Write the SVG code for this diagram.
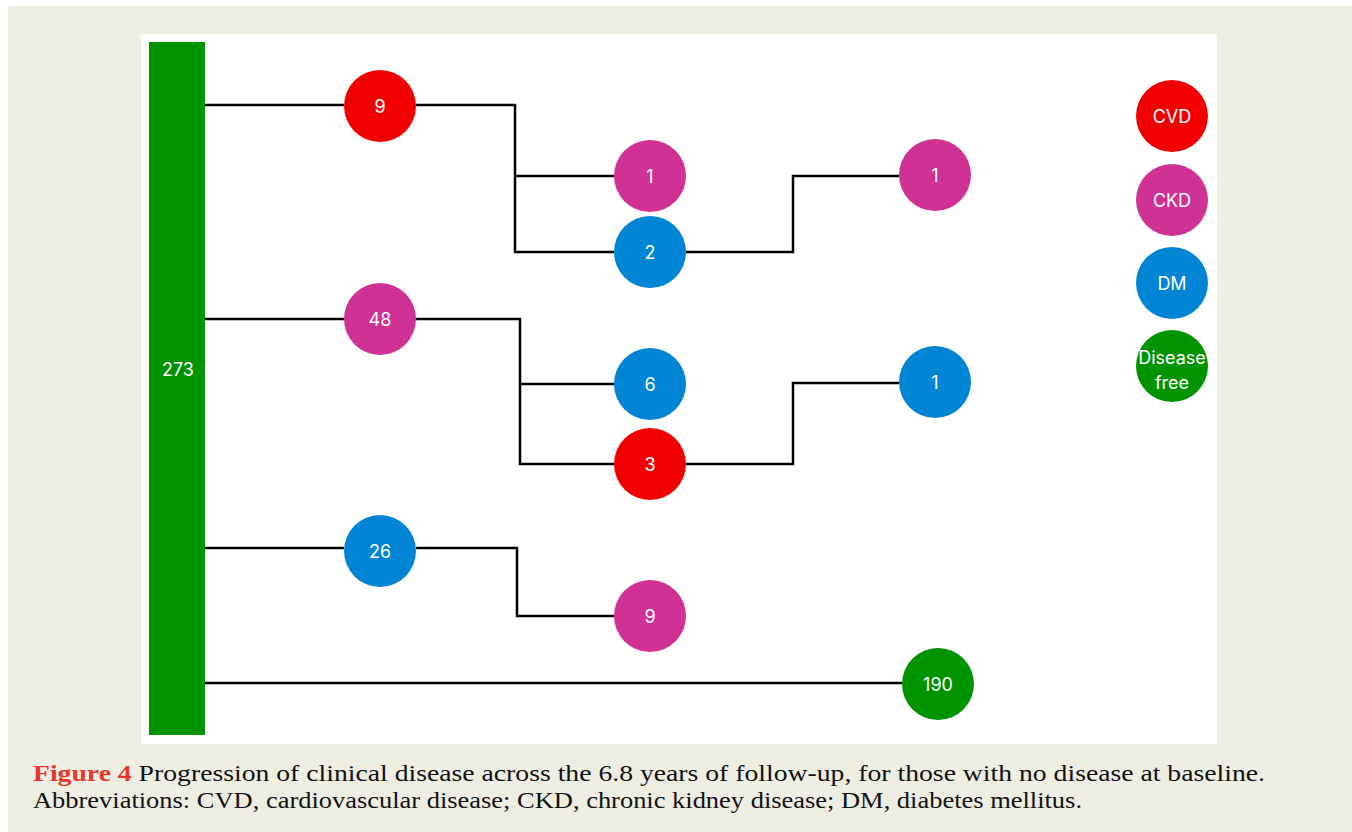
<svg xmlns="http://www.w3.org/2000/svg" width="1352" height="832" viewBox="0 0 1352 832">
<style>
.n text{font-family:Inter,"Noto Sans",sans-serif;font-size:18px;fill:#fff;text-anchor:middle;dominant-baseline:central}
.cvd{fill:#F20000}.ckd{fill:#CF3194}.dm{fill:#0085D4}.free{fill:#009300}
.conn path{fill:none;stroke:#000;stroke-width:2.5}
.cap{font-family:"Liberation Serif",serif;font-size:24px;fill:#111}
</style>
<rect x="0" y="0" width="1352" height="832" fill="#fff"/>
<rect x="8" y="6" width="1344" height="826" fill="#EFEEE3"/>
<rect x="141" y="34" width="1076" height="710" fill="#fff"/>
<g class="conn">
<path d="M205 105H344"/>
<path d="M416 105H515V252H614M515 176H614"/>
<path d="M686 252H793V176H899"/>
<path d="M205 319H344"/>
<path d="M416 319H520V464H614M520 384H614"/>
<path d="M686 464H793V383H899"/>
<path d="M205 548H344"/>
<path d="M416 548H517V616H614"/>
<path d="M205 683H902"/>
</g>
<g id="n273" class="n"><rect x="149" y="42" width="56" height="693" class="free"/><text x="178" y="369">273</text></g>
<g id="n9cvd" class="n"><circle cx="380" cy="106" r="36" class="cvd"/><text x="380" y="106">9</text></g>
<g id="n1ckd" class="n"><circle cx="650" cy="176" r="36" class="ckd"/><text x="650" y="176">1</text></g>
<g id="n2dm" class="n"><circle cx="650" cy="252" r="36" class="dm"/><text x="650" y="252">2</text></g>
<g id="n1ckd2" class="n"><circle cx="935" cy="175" r="36" class="ckd"/><text x="935" y="175">1</text></g>
<g id="n48" class="n"><circle cx="380" cy="319" r="36" class="ckd"/><text x="380" y="319">48</text></g>
<g id="n6" class="n"><circle cx="650" cy="384" r="36" class="dm"/><text x="650" y="384">6</text></g>
<g id="n3" class="n"><circle cx="650" cy="464" r="36" class="cvd"/><text x="650" y="464">3</text></g>
<g id="n1dm" class="n"><circle cx="935" cy="382" r="36" class="dm"/><text x="935" y="382">1</text></g>
<g id="n26" class="n"><circle cx="380" cy="551" r="36" class="dm"/><text x="380" y="551">26</text></g>
<g id="n9ckd" class="n"><circle cx="650" cy="616" r="36" class="ckd"/><text x="650" y="616">9</text></g>
<g id="n190" class="n"><circle cx="938" cy="684" r="36" class="free"/><text x="938" y="684">190</text></g>
<g id="legCVD" class="n"><circle cx="1172" cy="116" r="36" class="cvd"/><text x="1172" y="116">CVD</text></g>
<g id="legCKD" class="n"><circle cx="1172" cy="200" r="36" class="ckd"/><text x="1172" y="200">CKD</text></g>
<g id="legDM" class="n"><circle cx="1172" cy="283" r="36" class="dm"/><text x="1172" y="283">DM</text></g>
<g id="legFree" class="n"><circle cx="1172" cy="366" r="36" class="free"/><text x="1172" y="357">Disease</text><text x="1172" y="382">free</text></g>
<g id="caption">
<text class="cap" x="33" y="781" textLength="1232" lengthAdjust="spacingAndGlyphs"><tspan fill="#E8362B" font-weight="bold">Figure 4</tspan> Progression of clinical disease across the 6.8 years of follow-up, for those with no disease at baseline.</text>
<text class="cap" x="33" y="808" textLength="1049" lengthAdjust="spacingAndGlyphs">Abbreviations: CVD, cardiovascular disease; CKD, chronic kidney disease; DM, diabetes mellitus.</text>
</g>
</svg>
